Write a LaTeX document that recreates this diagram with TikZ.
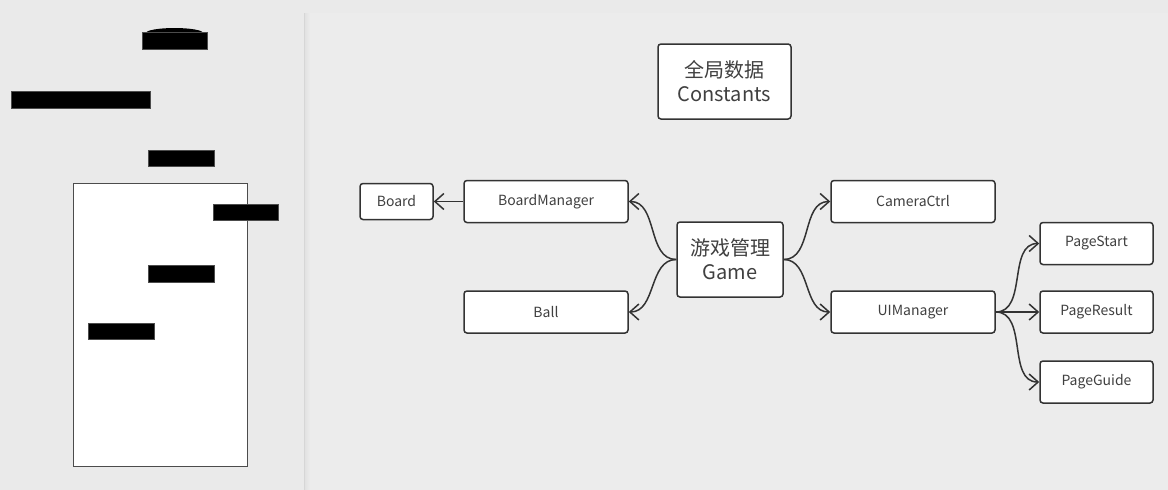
\documentclass[tikz,border=0pt]{standalone}
\usepackage{fontspec}
\setmainfont{Noto Sans CJK SC}
\usepackage{tikz}
\usetikzlibrary{arrows.meta, positioning}

\definecolor{bgleft}{HTML}{EAEAEA}
\definecolor{bgright}{HTML}{ECECEC}
\definecolor{boxline}{HTML}{333333}
\definecolor{boxtext}{HTML}{404040}

\tikzset{
    box/.style={draw=boxline, line width=1.5pt, fill=white, rounded corners=3pt,
        inner sep=0pt, text=boxtext, font=\fontsize{14}{16}\selectfont},
    bigbox/.style={box, align=center, font=\fontsize{20}{24}\selectfont},
    arr/.style={-{Straight Barb[length=9pt,width=16pt,line width=1.5pt]}, line width=1.5pt, draw=boxline},
    bar/.style={fill=black, draw=black!70, line width=0.6pt}
}

\begin{document}
\begin{tikzpicture}[x=1pt, y=-1pt]
        \useasboundingbox (0,0) rectangle (1168,490);
        % background and panel
        \fill[bgleft] (0,0) rectangle (1168,490);
        \fill[bgright] (304,13) rectangle (1168,490);
        \shade[left color=black!12, right color=bgright] (304,13) rectangle (310,490);
        \draw[black!16, line width=1pt] (304,13) -- (304,490);

        % left: game scene
        \draw[black!70, line width=1pt, fill=white] (73,183) rectangle (247,466);
        \fill (174.5,33) ellipse [x radius=28.5, y radius=5];
        \draw[bar] (142,32) rectangle (207,49);
        \draw[bar] (11,91) rectangle (150,108);
        \draw[bar] (148,150) rectangle (214,166);
        \draw[bar] (213,204) rectangle (278,220);
        \draw[bar] (148,265) rectangle (214,282);
        \draw[bar] (88,323) rectangle (154,339);

        % right: structure
        \node[bigbox, minimum width=133pt, minimum height=75pt] (consts) at (724.5,81.5) {全局数据\\Constants};
        \node[bigbox, minimum width=106pt, minimum height=75pt] (game) at (730,259.5) {游戏管理\\Game};
        \node[box, minimum width=73pt, minimum height=36pt] (board) at (396.5,201.5) {Board};
        \node[box, minimum width=164pt, minimum height=42pt] (boardmgr) at (546,201.5) {BoardManager};
        \node[box, minimum width=164pt, minimum height=42pt] (ball) at (546,312) {Ball};
        \node[box, minimum width=164pt, minimum height=42pt] (camera) at (913,201.5) {CameraCtrl};
        \node[box, minimum width=164pt, minimum height=42pt] (uimgr) at (913,312) {UIManager};
        \node[box, minimum width=113pt, minimum height=42pt] (pstart) at (1096.5,243.5) {PageStart};
        \node[box, minimum width=113pt, minimum height=42pt] (presult) at (1096.5,312) {PageResult};
        \node[box, minimum width=113pt, minimum height=42pt] (pguide) at (1096.5,382) {PageGuide};

        \draw[arr] (boardmgr.west) -- (board.east);
        \draw[arr] (game.west) to[out=180, in=0] (boardmgr.east);
        \draw[arr] (game.west) to[out=180, in=0] (ball.east);
        \draw[arr] (game.east) to[out=0, in=180] (camera.west);
        \draw[arr] (game.east) to[out=0, in=180] (uimgr.west);
        \draw[arr] (uimgr.east) to[out=0, in=180] (pstart.west);
        \draw[arr] (uimgr.east) -- (presult.west);
        \draw[arr] (uimgr.east) to[out=0, in=180] (pguide.west);
    \end{tikzpicture}
\end{document}
